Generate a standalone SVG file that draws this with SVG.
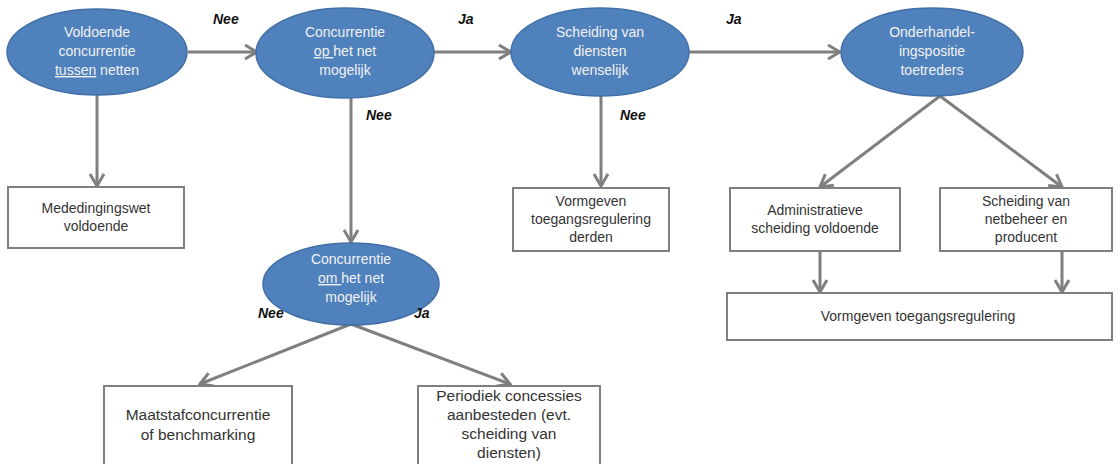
<svg xmlns="http://www.w3.org/2000/svg" width="1118" height="464" viewBox="0 0 1118 464">
<style>
.ell{fill:#4F81BD;stroke:#416FA6;stroke-width:1.5}
.box{fill:#fff;stroke:#7F7F7F;stroke-width:2}
.et{font-family:"Liberation Sans",Arial,sans-serif;font-size:14px;fill:#F2F2F2;text-anchor:middle}
.bt{font-family:"Liberation Sans",Arial,sans-serif;font-size:14px;fill:#333;text-anchor:middle}
.bt2{font-family:"Liberation Sans",Arial,sans-serif;font-size:15.5px;fill:#333;text-anchor:middle}
.lbl{font-family:"Liberation Sans",Arial,sans-serif;font-size:14px;font-weight:bold;font-style:italic;fill:#111}
.con{stroke:#7F7F7F;stroke-width:3;fill:none;marker-end:url(#arr)}
.u{text-decoration:underline}
</style>
<defs>
<marker id="arr" markerUnits="userSpaceOnUse" markerWidth="16" markerHeight="18" viewBox="0 0 16 18" refX="14" refY="9" orient="auto">
<path d="M2,2 L14,9 L2,16" fill="none" stroke="#7F7F7F" stroke-width="3"/>
</marker>
</defs>
<g id="connectors">
<line class="con" x1="188" y1="52" x2="257" y2="52"/>
<line class="con" x1="434" y1="52" x2="511" y2="52"/>
<line class="con" x1="689" y1="52" x2="840" y2="52"/>
<line class="con" x1="97" y1="95" x2="97" y2="186"/>
<line class="con" x1="351" y1="98" x2="351" y2="242"/>
<line class="con" x1="601" y1="96" x2="601" y2="186"/>
<path class="con" d="M351,324 L200,384"/>
<path class="con" d="M351,324 L510,384"/>
<path class="con" d="M940,96 L820,187"/>
<path class="con" d="M940,96 L1062,187"/>
<line class="con" x1="820" y1="251" x2="820" y2="292"/>
<line class="con" x1="1062" y1="251" x2="1062" y2="292"/>
</g>
<g id="n1">
<ellipse class="ell" cx="97" cy="52" rx="90" ry="43"/>
<text class="et" x="97" y="37">Voldoende</text>
<text class="et" x="97" y="56">concurrentie</text>
<text class="et" x="97" y="75"><tspan class="u">tussen</tspan> netten</text>
</g>
<g id="n2">
<ellipse class="ell" cx="345" cy="53" rx="89" ry="45"/>
<text class="et" x="345" y="37">Concurrentie</text>
<text class="et" x="345" y="56"><tspan class="u">op </tspan>het net</text>
<text class="et" x="345" y="75">mogelijk</text>
</g>
<g id="n3">
<ellipse class="ell" cx="600" cy="52" rx="89" ry="44"/>
<text class="et" x="600" y="37">Scheiding van</text>
<text class="et" x="600" y="56">diensten</text>
<text class="et" x="600" y="75">wenselijk</text>
</g>
<g id="n4">
<ellipse class="ell" cx="932" cy="52" rx="91" ry="44"/>
<text class="et" x="932" y="37">Onderhandel-</text>
<text class="et" x="932" y="56">ingspositie</text>
<text class="et" x="932" y="75">toetreders</text>
</g>
<g id="n5">
<rect class="box" x="8" y="187" width="176" height="61"/>
<text class="bt" x="96" y="213">Mededingingswet</text>
<text class="bt" x="96" y="231">voldoende</text>
</g>
<g id="n6">
<ellipse class="ell" cx="351" cy="284" rx="88" ry="41"/>
<text class="et" x="351" y="264">Concurrentie</text>
<text class="et" x="351" y="283"><tspan class="u">om </tspan>het net</text>
<text class="et" x="351" y="302">mogelijk</text>
</g>
<g id="n7">
<rect class="box" x="513" y="188" width="156" height="63"/>
<text class="bt" x="591" y="206">Vormgeven</text>
<text class="bt" x="591" y="224">toegangsregulering</text>
<text class="bt" x="591" y="242">derden</text>
</g>
<g id="n8">
<rect class="box" x="730" y="188" width="170" height="63"/>
<text class="bt" x="815" y="215">Administratieve</text>
<text class="bt" x="815" y="233">scheiding voldoende</text>
</g>
<g id="n9">
<rect class="box" x="940" y="188" width="172" height="63"/>
<text class="bt" x="1026" y="206">Scheiding van</text>
<text class="bt" x="1026" y="224">netbeheer en</text>
<text class="bt" x="1026" y="242">producent</text>
</g>
<g id="n10">
<rect class="box" x="727" y="293" width="385" height="47"/>
<text class="bt" x="918" y="321">Vormgeven toegangsregulering</text>
</g>
<g id="n11">
<rect class="box" x="104" y="386" width="188" height="84"/>
<text class="bt2" x="198" y="420">Maatstafconcurrentie</text>
<text class="bt2" x="198" y="440">of benchmarking</text>
</g>
<g id="n12">
<rect class="box" x="418" y="386" width="182" height="84"/>
<text class="bt2" x="509" y="401">Periodiek concessies</text>
<text class="bt2" x="509" y="420">aanbesteden (evt.</text>
<text class="bt2" x="509" y="439">scheiding van</text>
<text class="bt2" x="509" y="458">diensten)</text>
</g>
<g id="labels">
<text class="lbl" x="213" y="24">Nee</text>
<text class="lbl" x="458" y="24">Ja</text>
<text class="lbl" x="726" y="24">Ja</text>
<text class="lbl" x="366" y="120">Nee</text>
<text class="lbl" x="620" y="120">Nee</text>
<text class="lbl" x="258" y="318">Nee</text>
<text class="lbl" x="414" y="318">Ja</text>
</g>
</svg>
